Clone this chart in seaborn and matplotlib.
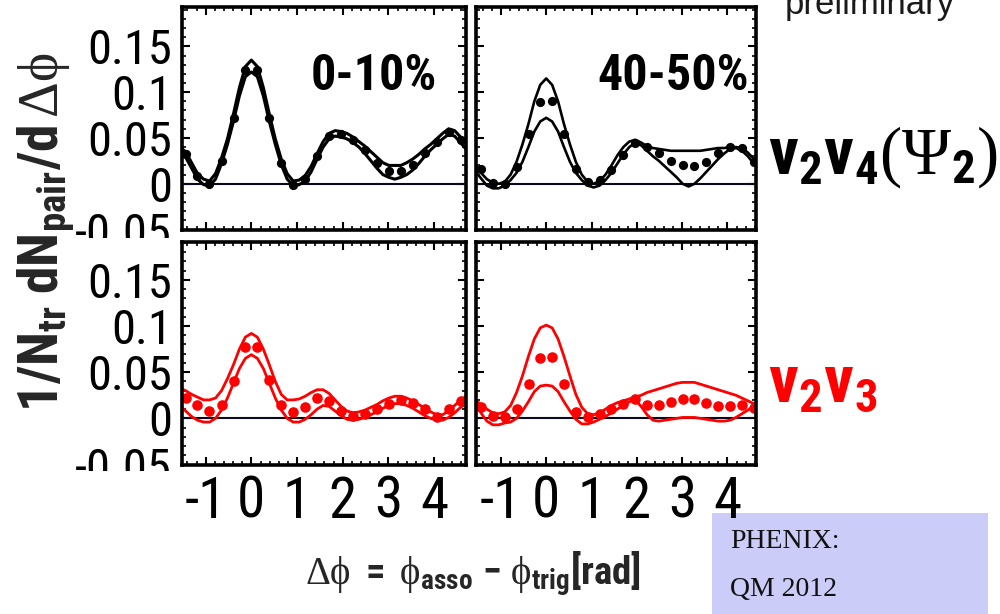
import matplotlib
matplotlib.use("Agg")
import matplotlib.pyplot as plt
import seaborn as sns
from matplotlib import font_manager as fm
from matplotlib.patches import Rectangle
from matplotlib.ticker import FixedLocator, MultipleLocator
from matplotlib.transforms import Bbox, TransformedBbox

# ---------------------------------------------------------------- data
# bin centres of the measured correlation (24 bins over 2*pi)
phi_bins = [-1.44, -1.18, -0.92, -0.65, -0.39, -0.13, 0.13, 0.39, 0.65, 0.92, 1.18, 1.44,
            1.70, 1.96, 2.23, 2.49, 2.75, 3.01, 3.27, 3.53, 3.80, 4.06, 4.32, 4.58]

# abscissa of the model band edges
phi_band = [-1.571, -1.440, -1.309, -1.178, -1.047, -0.916, -0.785, -0.654, -0.524, -0.393,
            -0.262, -0.131, 0.000, 0.131, 0.262, 0.393, 0.524, 0.654, 0.785, 0.916, 1.047,
            1.178, 1.309, 1.440, 1.571, 1.702, 1.833, 1.963, 2.094, 2.225, 2.356, 2.487,
            2.618, 2.749, 2.880, 3.011, 3.142, 3.272, 3.403, 3.534, 3.665, 3.796, 3.927,
            4.058, 4.189, 4.320, 4.451, 4.581, 4.712]

# v2v4(Psi2) subtracted correlations, 0-10%
v24_c0_pts = [0.032, 0.008, 0.000, 0.025, 0.072, 0.124, 0.124, 0.072, 0.023, -0.001, 0.005, 0.030,
              0.052, 0.054, 0.048, 0.037, 0.023, 0.014, 0.014, 0.021, 0.034, 0.046, 0.057, 0.048]
v24_c0_hi = [0.040, 0.035, 0.023, 0.011, 0.005, 0.003, 0.011, 0.028, 0.049, 0.076, 0.105, 0.128,
             0.135, 0.128, 0.105, 0.076, 0.049, 0.027, 0.011, 0.003, 0.004, 0.009, 0.019, 0.033,
             0.046, 0.055, 0.058, 0.057, 0.055, 0.051, 0.046, 0.041, 0.035, 0.029, 0.023, 0.020,
             0.020, 0.020, 0.023, 0.027, 0.032, 0.038, 0.043, 0.049, 0.055, 0.060, 0.058, 0.051,
             0.043]
v24_c0_lo = [0.034, 0.029, 0.017, 0.005, -0.001, -0.002, 0.005, 0.022, 0.043, 0.068, 0.096, 0.117,
             0.122, 0.117, 0.096, 0.068, 0.043, 0.021, 0.005, -0.002, -0.001, 0.003, 0.013, 0.027,
             0.040, 0.049, 0.052, 0.051, 0.049, 0.045, 0.040, 0.033, 0.025, 0.017, 0.010, 0.007,
             0.005, 0.007, 0.010, 0.015, 0.022, 0.030, 0.037, 0.043, 0.049, 0.054, 0.052, 0.045,
             0.037]

# v2v4(Psi2) subtracted correlations, 40-50%
v24_c40_pts = [0.016, 0.001, 0.000, 0.018, 0.054, 0.089, 0.090, 0.054, 0.016, 0.002, 0.004, 0.015,
               0.031, 0.045, 0.040, 0.034, 0.025, 0.020, 0.019, 0.024, 0.034, 0.040, 0.039, 0.024]
v24_c40_hi = [0.021, 0.012, 0.005, 0.001, 0.000, 0.002, 0.010, 0.024, 0.043, 0.065, 0.090, 0.108,
              0.115, 0.108, 0.090, 0.065, 0.043, 0.024, 0.010, 0.002, 0.000, 0.003, 0.010, 0.020,
              0.031, 0.040, 0.046, 0.048, 0.045, 0.041, 0.039, 0.038, 0.037, 0.036, 0.036, 0.036,
              0.036, 0.036, 0.036, 0.037, 0.038, 0.039, 0.039, 0.040, 0.040, 0.039, 0.034, 0.027,
              0.021]
v24_c40_lo = [0.014, 0.006, -0.002, -0.005, -0.005, -0.002, 0.004, 0.012, 0.024, 0.040, 0.057, 0.068,
              0.072, 0.068, 0.057, 0.040, 0.024, 0.012, 0.004, -0.002, -0.004, -0.002, 0.004, 0.012,
              0.022, 0.032, 0.040, 0.045, 0.042, 0.036, 0.030, 0.025, 0.019, 0.013, 0.007, 0.000,
              -0.003, 0.000, 0.006, 0.013, 0.020, 0.027, 0.033, 0.038, 0.039, 0.036, 0.030, 0.022,
              0.016]

# v2v3 subtracted correlations, 0-10%
v23_c0_pts = [0.022, 0.014, 0.008, 0.015, 0.041, 0.077, 0.077, 0.042, 0.014, 0.007, 0.012, 0.022,
              0.019, 0.008, 0.003, 0.005, 0.010, 0.016, 0.020, 0.017, 0.010, 0.001, 0.010, 0.019]
v23_c0_hi = [0.033, 0.030, 0.026, 0.023, 0.020, 0.020, 0.022, 0.030, 0.043, 0.058, 0.075, 0.088,
             0.092, 0.088, 0.075, 0.058, 0.040, 0.026, 0.020, 0.020, 0.021, 0.024, 0.028, 0.031,
             0.031, 0.027, 0.020, 0.013, 0.008, 0.006, 0.007, 0.009, 0.012, 0.015, 0.019, 0.022,
             0.024, 0.024, 0.022, 0.019, 0.015, 0.011, 0.007, 0.004, 0.004, 0.008, 0.014, 0.020,
             0.024]
v23_c0_lo = [0.014, 0.008, 0.002, -0.002, -0.004, -0.004, 0.000, 0.009, 0.022, 0.038, 0.054, 0.065,
             0.069, 0.065, 0.054, 0.038, 0.022, 0.009, 0.000, -0.004, -0.004, -0.001, 0.004, 0.010,
             0.014, 0.013, 0.008, 0.003, -0.001, -0.002, -0.001, 0.001, 0.004, 0.007, 0.011, 0.014,
             0.016, 0.016, 0.014, 0.011, 0.007, 0.003, 0.000, -0.002, -0.002, 0.001, 0.006, 0.012,
             0.016]

# v2v3 subtracted correlations, 40-50%
v23_c40_pts = [0.012, 0.003, 0.002, 0.010, 0.037, 0.065, 0.066, 0.037, 0.007, 0.002, 0.005, 0.010,
               0.016, 0.021, 0.014, 0.014, 0.018, 0.021, 0.021, 0.017, 0.013, 0.013, 0.014, 0.011]
v23_c40_hi = [0.020, 0.015, 0.010, 0.006, 0.005, 0.007, 0.014, 0.028, 0.046, 0.067, 0.086, 0.098,
              0.101, 0.098, 0.086, 0.067, 0.046, 0.026, 0.012, 0.005, 0.004, 0.006, 0.010, 0.014,
              0.017, 0.019, 0.021, 0.023, 0.025, 0.028, 0.030, 0.032, 0.034, 0.036, 0.038, 0.039,
              0.039, 0.039, 0.037, 0.035, 0.033, 0.031, 0.029, 0.027, 0.025, 0.022, 0.019, 0.016,
              0.013]
v23_c40_lo = [0.016, 0.006, -0.003, -0.007, -0.007, -0.005, -0.004, 0.000, 0.008, 0.018, 0.029, 0.035,
              0.036, 0.035, 0.029, 0.018, 0.008, -0.001, -0.006, -0.006, -0.004, -0.001, 0.002, 0.006,
              0.010, 0.014, 0.018, 0.020, 0.013, 0.004, -0.002, -0.003, -0.002, -0.001, 0.000, 0.001,
              0.001, 0.001, 0.000, -0.001, -0.002, -0.003, -0.003, -0.002, 0.001, 0.005, 0.009, 0.013,
              0.015]

centrality_labels = ["0-10%", "40-50%"]
ytick_vals = [-0.05, 0.0, 0.05, 0.1, 0.15]
ytick_text = ["-0.05", "0", "0.05", "0.1", "0.15"]
xtick_vals = [-1, 0, 1, 2, 3, 4]
xtick_text = ["-1", "0", "1", "2", "3", "4"]

# ---------------------------------------------------------------- style
sns.set_theme(style="white")
installed = {f.name for f in fm.fontManager.ttflist}
narrow_candidates = ["Liberation Sans Narrow", "Roboto Condensed", "Open Sans Condensed",
                     "Noto Sans Condensed", "DejaVu Sans Condensed", "Arial Narrow",
                     "Nimbus Sans Narrow"]
NARROW = next((n for n in narrow_candidates if n in installed), "Liberation Sans")
plt.rcParams["font.family"] = [NARROW, "DejaVu Sans"]
plt.rcParams["mathtext.fontset"] = "custom"
plt.rcParams["mathtext.rm"] = "Liberation Serif"
plt.rcParams["mathtext.it"] = "Liberation Serif:italic"
plt.rcParams["mathtext.bf"] = NARROW + ":bold"
plt.rcParams["mathtext.sf"] = NARROW

W, H = 1000, 614
fig = plt.figure(figsize=(W / 100, H / 100), dpi=100, facecolor="white")


def frame(left, right, top, bottom):
    """Axes rectangle from pixel edges measured from the top-left corner."""
    return [left / W, 1 - bottom / H, (right - left) / W, (bottom - top) / H]


panels = [
    # row, col, rect, xlim, ylim, points, hi, lo, colour, marker size, line width
    (0, 0, frame(181.5, 466, 7, 230), (-1.53, 4.70), (-0.0505, 0.193),
     v24_c0_pts, v24_c0_hi, v24_c0_lo, "black", 44, 2.2),
    (0, 1, frame(475.5, 756, 7, 230), (-1.56, 4.63), (-0.0505, 0.193),
     v24_c40_pts, v24_c40_hi, v24_c40_lo, "black", 44, 1.9),
    (1, 0, frame(181.5, 466, 242, 465), (-1.53, 4.70), (-0.0505, 0.191),
     v23_c0_pts, v23_c0_hi, v23_c0_lo, "#ff0000", 58, 2.0),
    (1, 1, frame(475.5, 756, 242, 465), (-1.56, 4.63), (-0.0505, 0.191),
     v23_c40_pts, v23_c40_hi, v23_c40_lo, "#ff0000", 58, 2.0),
]

# pixel row (from the top) below which the lowest y label of each row is hidden
label_cut = {0: 238, 1: 471}
# placement of the centrality tag: (x in axes fraction, horizontal alignment)
tag_place = {0: (0.675, "center"), 1: (0.975, "right")}

for row, col, rect, xlim, ylim, pts, hi, lo, colour, msize, lw in panels:
    ax = fig.add_axes(rect)
    ax.set_facecolor("white")
    ax.axhline(0, color="#0a0a1e", lw=1.5, zorder=1)
    sns.lineplot(x=phi_band, y=hi, ax=ax, color=colour, lw=lw, sort=False,
                 estimator=None, zorder=3)
    sns.lineplot(x=phi_band, y=lo, ax=ax, color=colour, lw=lw, sort=False,
                 estimator=None, zorder=3)
    sns.scatterplot(x=phi_bins, y=pts, ax=ax, color=colour, s=msize, linewidth=0,
                    zorder=4)
    ax.set_xlim(*xlim)
    ax.set_ylim(*ylim)
    ax.set_xlabel("")
    ax.set_ylabel("")

    ax.xaxis.set_major_locator(FixedLocator(xtick_vals))
    ax.xaxis.set_minor_locator(MultipleLocator(0.2))
    ax.yaxis.set_major_locator(FixedLocator(ytick_vals))
    ax.yaxis.set_minor_locator(MultipleLocator(0.01))
    ax.tick_params(which="both", direction="in", top=True, bottom=True, left=True,
                   right=True, color="black", labelcolor="black")
    ax.tick_params(which="major", length=6, width=1.5)
    ax.tick_params(which="minor", length=3, width=1.2)
    for sp in ax.spines.values():
        sp.set_linewidth(2.6)
        sp.set_color("black")
        sp.set_zorder(6)

    if col == 0:
        ax.set_yticklabels(ytick_text, fontsize=35)
        ax.tick_params(axis="y", pad=7)
        cut = TransformedBbox(Bbox([[0, 1 - label_cut[row] / H], [1, 1]]), fig.transFigure)
        for lab in ax.get_yticklabels():
            if lab.get_text() == "-0.05":
                lab.set_clip_box(cut)
                lab.set_clip_on(True)
    else:
        ax.set_yticklabels([])

    if row == 1:
        ax.set_xticklabels(xtick_text, fontsize=41)
        ax.tick_params(axis="x", pad=7)
    else:
        ax.set_xticklabels([])
        tx, tha = tag_place[col]
        ax.text(tx, 0.628, centrality_labels[col], transform=ax.transAxes, ha=tha,
                va="baseline", fontsize=36, fontweight="bold", color="black", zorder=7)

# ---------------------------------------------------------------- axis titles
fig.text(47 / W, 1 - 232 / H,
         r"$\mathbf{1/N_{tr}\;dN_{pair}/d}\,\mathrm{\Delta\phi}$",
         rotation=90, ha="center", va="center", fontsize=40)
fig.text(473 / W, 1 - 574 / H,
         r"$\mathrm{\Delta\phi}\ \mathbf{=}\ \mathrm{\phi}_{\mathbf{asso}}\ \mathbf{-}\ "
         r"\mathrm{\phi}_{\mathbf{trig}}\mathbf{[rad]}$",
         ha="center", va="center", fontsize=28)

# ---------------------------------------------------------------- row tags
fig.text(768 / W, 1 - 174 / H, r"$\mathbf{v_2v_4}(\Psi_{\mathbf{2}})$",
         ha="left", va="baseline", fontsize=48, color="black")
fig.text(768 / W, 1 - 401 / H, r"$\mathbf{v_2v_3}$",
         ha="left", va="baseline", fontsize=48, color="#ff0000")

fig.text(785 / W, 1 - 14 / H, "preliminary", ha="left", va="baseline",
         fontsize=25, family="Liberation Sans", color="#1a1a1a")

# ---------------------------------------------------------------- conference tag
fig.add_artist(Rectangle((712 / W, 0), 276 / W, 101 / H, transform=fig.transFigure,
                         facecolor="#ccccf8", edgecolor="none", zorder=0))
fig.text(730 / W, 1 - 548 / H, "PHENIX:", ha="left", va="baseline",
         fontsize=20, family="Liberation Serif", color="#111111")
fig.text(730 / W, 1 - 596 / H, "QM 2012", ha="left", va="baseline",
         fontsize=20, family="Liberation Serif", color="#111111")

fig.savefig("out.png", dpi=100, facecolor="white")
